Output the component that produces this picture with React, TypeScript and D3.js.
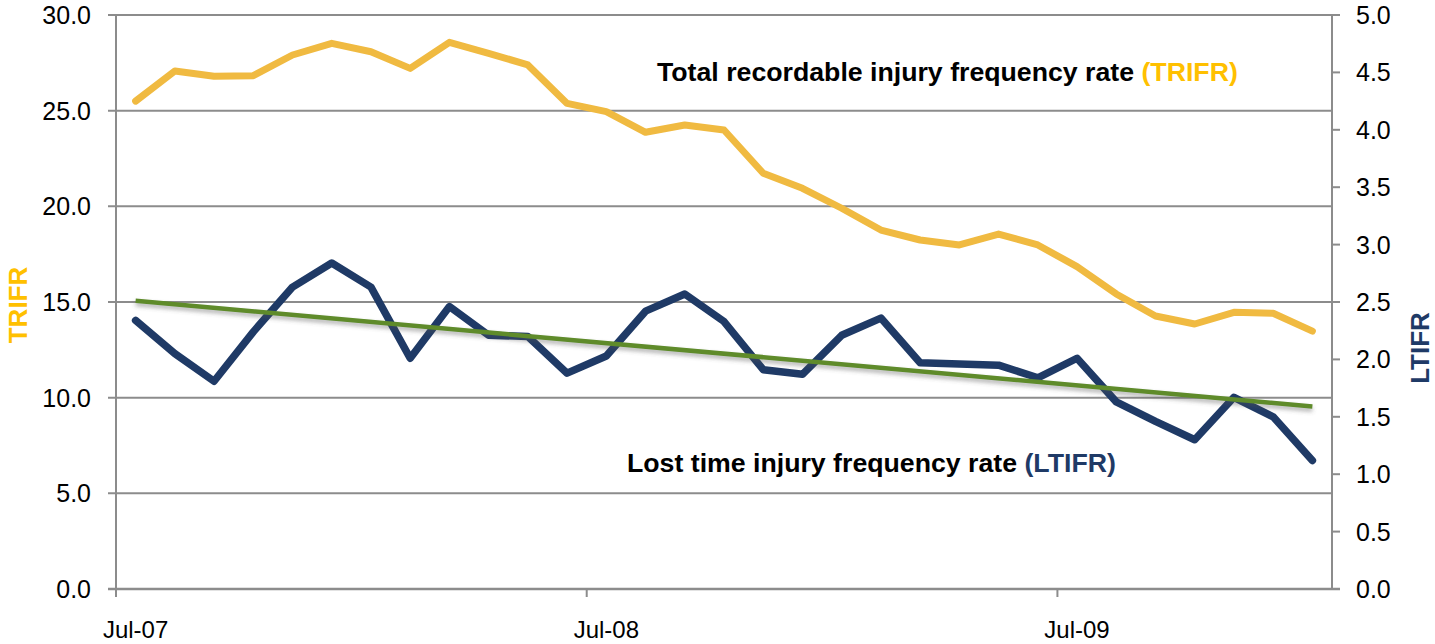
import React from "react";
import * as d3 from "d3";

const months = [
  "Jul-07","Aug-07","Sep-07","Oct-07","Nov-07","Dec-07",
  "Jan-08","Feb-08","Mar-08","Apr-08","May-08","Jun-08",
  "Jul-08","Aug-08","Sep-08","Oct-08","Nov-08","Dec-08",
  "Jan-09","Feb-09","Mar-09","Apr-09","May-09","Jun-09",
  "Jul-09","Aug-09","Sep-09","Oct-09","Nov-09","Dec-09",
  "Jan-10",
];

const trifr = [
  25.5, 27.07, 26.8, 26.83, 27.91, 28.52, 28.08, 27.21, 28.57, 28.0, 27.39,
  25.38, 24.95, 23.87, 24.25, 23.99, 21.73, 20.94, 19.9, 18.76, 18.24, 17.98,
  18.55, 17.98, 16.85, 15.42, 14.27, 13.85, 14.46, 14.41, 13.48,
];

const ltifr = [
  2.34, 2.05, 1.81, 2.24, 2.63, 2.84, 2.63, 2.01, 2.46, 2.21, 2.2,
  1.88, 2.03, 2.42, 2.57, 2.33, 1.91, 1.87, 2.21, 2.36, 1.97, 1.96,
  1.95, 1.84, 2.01, 1.63, 1.46, 1.3, 1.67, 1.5, 1.12,
];

// linear trend of LTIFR: value at first and last month
const trendMonths = ["Jul-07", "Jan-10"];
const trendValues = [2.51, 1.59];

const leftTicks = [0, 5, 10, 15, 20, 25, 30];
const rightTicks = [0, 0.5, 1, 1.5, 2, 2.5, 3, 3.5, 4, 4.5, 5];
const xTickLabels = ["Jul-07", "Jul-08", "Jul-09"];

const GOLD_LINE = "#F0BA41";
const GOLD_TEXT = "#FFC000";
const NAVY = "#1F3A66";
const GREEN = "#5E8B2B";
const GRID = "#8C8C8C";
const FONT = "'Liberation Sans', Arial, sans-serif";

export default function App() {
  const W = 1435, H = 644;
  const left = 116, right = 1332, top = 15, bottom = 589;

  const x = d3.scaleBand<string>().domain(months).range([left, right]).padding(0);
  const cx = (m: string) => (x(m) as number) + x.bandwidth() / 2;
  const yL = d3.scaleLinear().domain([0, 30]).range([bottom, top]);
  const yR = d3.scaleLinear().domain([0, 5]).range([bottom, top]);

  const lineL = d3.line<number>().x((_, i) => cx(months[i])).y((d) => yL(d));
  const lineR = d3.line<number>().x((_, i) => cx(months[i])).y((d) => yR(d));
  const lineT = d3.line<number>().x((_, i) => cx(trendMonths[i])).y((d) => yR(d));

  return (
    <svg width={W} height={H} style={{ position: "absolute", left: 0, top: 0, background: "#fff" }}>
      <defs>
        <filter id="shadow" x="-5%" y="-50%" width="110%" height="200%">
          <feDropShadow dx="0" dy="3" stdDeviation="2" floodColor="#555" floodOpacity="0.45" />
        </filter>
      </defs>

      {/* gridlines */}
      {leftTicks.filter((t) => t > 0).map((t) => (
        <line key={"g" + t} x1={left - 8} x2={right} y1={yL(t)} y2={yL(t)} stroke={GRID} strokeWidth={2} />
      ))}
      {/* left axis */}
      <line x1={left} x2={left} y1={top} y2={bottom + 8} stroke={GRID} strokeWidth={2} />
      <line x1={left - 8} x2={right + 8} y1={bottom} y2={bottom} stroke={GRID} strokeWidth={2.5} />
      {/* right axis */}
      <line x1={right} x2={right} y1={top} y2={bottom} stroke={GRID} strokeWidth={2} />
      {rightTicks.map((t) => (
        <line key={"rt" + t} x1={right} x2={right + 8} y1={yR(t)} y2={yR(t)} stroke={GRID} strokeWidth={2} />
      ))}
      {/* x ticks */}
      {xTickLabels.map((m) => (
        <line key={"xt" + m} x1={x(m) as number} x2={x(m) as number} y1={bottom} y2={bottom + 8} stroke={GRID} strokeWidth={2} />
      ))}

      {/* tick labels */}
      {leftTicks.map((t) => (
        <text key={"lt" + t} x={91} y={yL(t)} dy="0.36em" textAnchor="end" fontFamily={FONT} fontSize={25} fill="#000">
          {t.toFixed(1)}
        </text>
      ))}
      {rightTicks.map((t) => (
        <text key={"rl" + t} x={1356} y={yR(t)} dy="0.36em" textAnchor="start" fontFamily={FONT} fontSize={25} fill="#000">
          {t.toFixed(1)}
        </text>
      ))}
      {xTickLabels.map((m) => (
        <text key={"xl" + m} x={cx(m)} y={638} textAnchor="middle" fontFamily={FONT} fontSize={24} fill="#000">
          {m}
        </text>
      ))}

      {/* axis titles */}
      <text transform="translate(27,305) rotate(-90)" textAnchor="middle" fontFamily={FONT} fontWeight="bold" fontSize={26} fill={GOLD_TEXT}>
        TRIFR
      </text>
      <text transform="translate(1429,348) rotate(-90)" textAnchor="middle" fontFamily={FONT} fontWeight="bold" fontSize={26} fill={NAVY}>
        LTIFR
      </text>

      {/* series */}
      <path d={lineL(trifr) as string} fill="none" stroke={GOLD_LINE} strokeWidth={7} strokeLinejoin="round" strokeLinecap="round" />
      <path d={lineR(ltifr) as string} fill="none" stroke={NAVY} strokeWidth={7.5} strokeLinejoin="round" strokeLinecap="round" />
      <path d={lineT(trendValues) as string} fill="none" stroke={GREEN} strokeWidth={4.5} filter="url(#shadow)" />

      {/* annotations */}
      <text x={657} y={81} fontFamily={FONT} fontWeight="bold" fontSize={26.7} fill="#000">
        Total recordable injury frequency rate <tspan fill={GOLD_TEXT}>(TRIFR)</tspan>
      </text>
      <text x={627} y={472} fontFamily={FONT} fontWeight="bold" fontSize={26.7} fill="#000">
        Lost time injury frequency rate <tspan fill={NAVY}>(LTIFR)</tspan>
      </text>
    </svg>
  );
}
